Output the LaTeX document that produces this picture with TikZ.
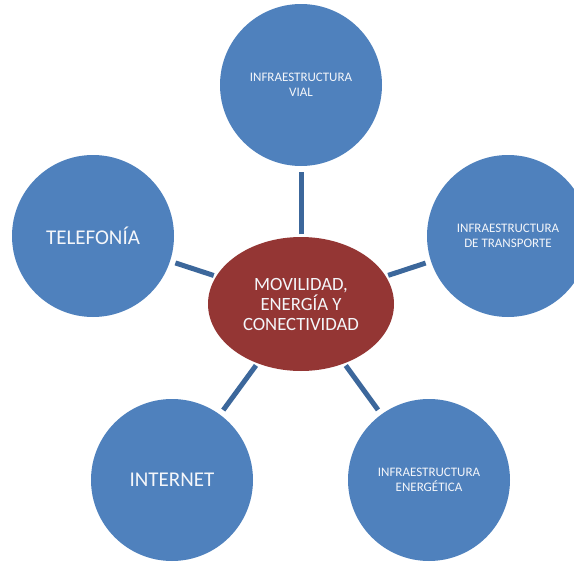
\documentclass[tikz,border=0pt]{standalone}
\usepackage{fontspec}
\setmainfont{Carlito}
\usetikzlibrary{shapes.geometric}
\definecolor{circblue}{HTML}{4F81BD}
\definecolor{connblue}{HTML}{3C679B}
\definecolor{centred}{HTML}{943634}
\definecolor{txtwhite}{HTML}{F4F6FA}
\tikzset{
  bubble/.style={circle, fill=circblue, minimum size=162pt, inner sep=0pt,
    text=txtwhite, align=center},
  smalltxt/.style={font=\fontsize{13}{14.5}\selectfont},
  bigtxt/.style={font=\fontsize{21}{25}\selectfont},
  hub/.style={ellipse, fill=centred, minimum width=186pt, minimum height=134pt,
    inner sep=0pt, text=txtwhite, align=center,
    font=\fontsize{18.7}{20}\selectfont},
  conn/.style={draw=connblue, line width=5pt, shorten <=2.5pt, shorten >=5.5pt}
}
\begin{document}
\begin{tikzpicture}[x=1pt,y=-1pt]
\useasboundingbox (0,0) rectangle (574,562);
\clip (0,0) rectangle (574,562);
\node[hub] (c) at (301,304) {MOVILIDAD,\\ENERGÍA Y\\CONECTIVIDAD};
\node[bubble,smalltxt] (vial) at (301,85) {INFRAESTRUCTURA\\VIAL};
\node[bubble,smalltxt] (trans) at (508,236) {INFRAESTRUCTURA\\DE TRANSPORTE};
\node[bubble,smalltxt] (energ) at (429,480) {INFRAESTRUCTURA\\ENERGÉTICA};
\node[bubble,bigtxt] (inter) at (172,480) {INTERNET};
\node[bubble,bigtxt] (tel) at (93,236) {TELEFONÍA};
\draw[conn] (c) -- (vial);
\draw[conn] (c) -- (trans);
\draw[conn] (c) -- (energ);
\draw[conn] (c) -- (inter);
\draw[conn] (c) -- (tel);
\end{tikzpicture}
\end{document}
